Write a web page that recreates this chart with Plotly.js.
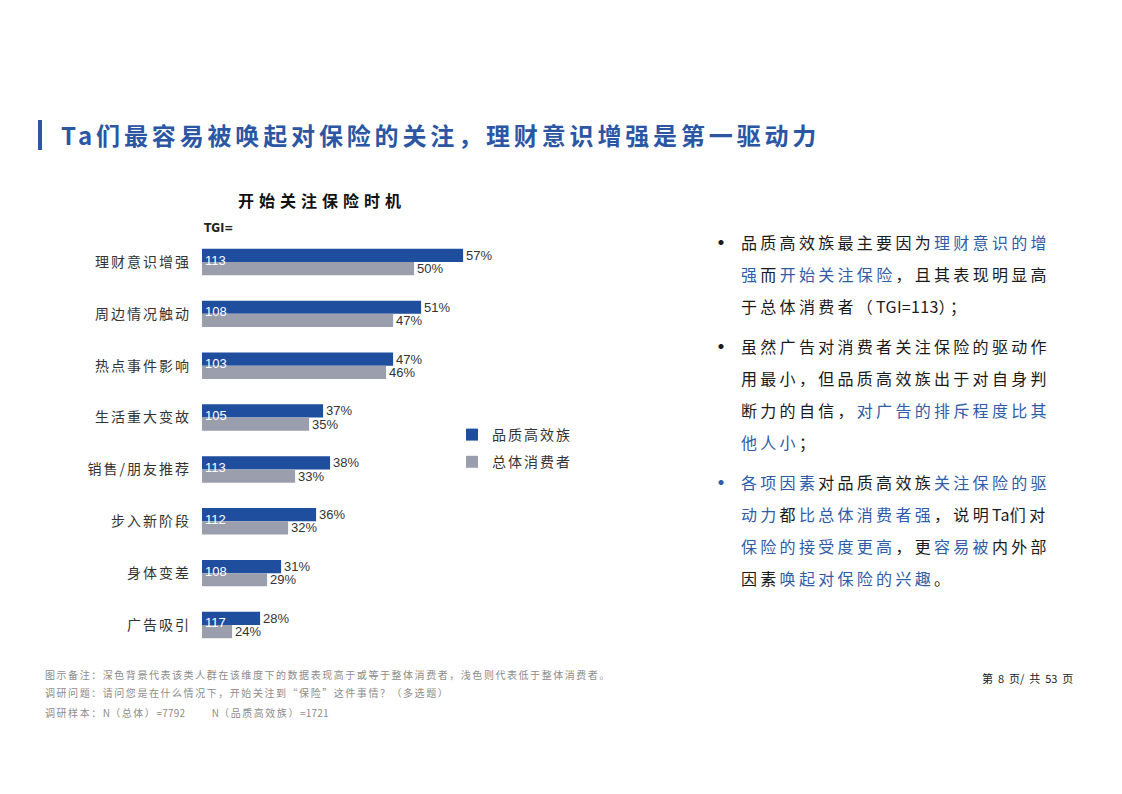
<!DOCTYPE html>
<html>
<head>
<meta charset="utf-8">
<script src="https://cdn.plot.ly/plotly-3.0.1.min.js"></script>
<style>
  html, body { margin: 0; padding: 0; background: #ffffff; }
  #wrap { position: relative; width: 1122px; height: 794px; overflow: hidden; font-family: "Noto Sans CJK SC", sans-serif; }
  #chart { position: absolute; left: 0; top: 0; width: 1122px; height: 794px; }
  .ytick text { letter-spacing: 2px; }
  .legendtext { letter-spacing: 2px; }
  .gtitle { letter-spacing: 5px; }
  #hbar { position: absolute; left: 38px; top: 120px; width: 4px; height: 30px; background: #2B56A4; }
  #htitle { position: absolute; left: 61px; top: 117px; font-size: 24px; line-height: 36px; font-weight: bold; color: #2B56A4; letter-spacing: 3.85px; white-space: nowrap; }
  #bullets { position: absolute; left: 708px; top: 226px; font-size: 16px; color: #1a1a1a; letter-spacing: 3.3px; white-space: nowrap; }
  .item { position: relative; padding-left: 33px; line-height: 32px; margin-bottom: 8px; }
  .item .dot { position: absolute; left: 3px; top: 0; letter-spacing: 0; font-size: 20px; font-weight: bold; }
  .lat { letter-spacing: 0.3px; }
  .hl { color: #2F5CA8; }
  #notes { position: absolute; left: 45px; top: 666px; font-size: 10px; color: #8c8c8c; letter-spacing: 1.55px; white-space: nowrap; }
  #notes div { height: 18px; line-height: 18px; }
  #notes .lat { letter-spacing: 0.2px; }
  #page { position: absolute; left: 982px; top: 670px; font-size: 11px; color: #222; white-space: pre; letter-spacing: 0px; }
</style>
</head>
<body>
<div id="wrap">
  <div id="chart"></div>
  <div id="hbar"></div>
  <div id="htitle">Ta们最容易被唤起对保险的关注，理财意识增强是第一驱动力</div>
  <div id="bullets">
    <div class="item"><span class="dot">•</span>品质高效族最主要因为<span class="hl">理财意识的增</span><br><span class="hl">强</span>而<span class="hl">开始关注保险</span>，且其表现明显高<br>于总体消费者（<span class="lat">TGI=113</span>）；</div>
    <div class="item"><span class="dot">•</span>虽然广告对消费者关注保险的驱动作<br>用最小，但品质高效族出于对自身判<br>断力的自信，<span class="hl">对广告的排斥程度比其</span><br><span class="hl">他人小</span>；</div>
    <div class="item"><span class="dot hl">•</span><span class="hl">各项因素</span>对品质高效族<span class="hl">关注保险的驱</span><br><span class="hl">动力</span>都<span class="hl">比总体消费者强</span>，说明<span class="lat">Ta</span>们对<br><span class="hl">保险的接受度更高</span>，更<span class="hl">容易被</span>内外部<br>因素<span class="hl">唤起对保险的兴趣</span>。</div>
  </div>
  <div id="notes">
    <div>图示备注：深色背景代表该类人群在该维度下的数据表现高于或等于整体消费者，浅色则代表低于整体消费者。</div>
    <div>调研问题：请问您是在什么情况下，开始关注到“保险”这件事情？（多选题）</div>
    <div style="margin-top:2px">调研样本：<span class="lat">N</span>（总体）<span class="lat">=7792</span>&nbsp;&nbsp;&nbsp;&nbsp;&nbsp;&nbsp;&nbsp;<span class="lat">N</span>（品质高效族）<span class="lat">=1721</span></div>
  </div>
  <div id="page">第  8  页/  共  53  页</div>
</div>
<script>
// ---- data ----
var categories = ["理财意识增强", "周边情况触动", "热点事件影响", "生活重大变故", "销售/朋友推荐", "步入新阶段", "身体变差", "广告吸引"];
var qualityValues = [57, 51, 47, 37, 38, 36, 31, 28];   // 品质高效族 (%)
var totalValues = [50, 47, 46, 35, 33, 32, 29, 24];     // 总体消费者 (%)
var tgiValues = [113, 108, 103, 105, 113, 112, 108, 117];
var seriesNames = ["品质高效族", "总体消费者"];
var chartTitle = "开始关注保险时机";
var tgiLabel = "TGI=";

// ---- layout constants ----
var W = 1122, H = 794;
var xMin = 19.7, xMax = 70;
var cjk = '"Noto Sans CJK SC", sans-serif';
var latin = '"Liberation Sans", Arial, sans-serif';

var pct = function (arr) { return arr.map(function (v) { return v + "%"; }); };

var traces = [
  {
    type: "bar", orientation: "h", name: seriesNames[0],
    y: categories, x: qualityValues,
    marker: { color: "#1F4E9F", line: { width: 0 } },
    text: pct(qualityValues), textposition: "outside", cliponaxis: false,
    constraintext: "none",
    textfont: { family: latin, size: 13, color: "#333333" },
    legendgroup: "a", hoverinfo: "skip"
  },
  {
    type: "bar", orientation: "h", name: seriesNames[1],
    y: categories, x: totalValues,
    marker: { color: "#9B9EAC", line: { width: 0 } },
    text: pct(totalValues), textposition: "outside", cliponaxis: false,
    constraintext: "none",
    textfont: { family: latin, size: 13, color: "#333333" },
    legendgroup: "b", hoverinfo: "skip"
  }
];

var annotations = categories.map(function (c, i) {
  return {
    xref: "x", yref: "y", x: xMin, y: c, text: String(tgiValues[i]),
    xanchor: "left", yanchor: "middle", xshift: 1, yshift: 2, showarrow: false,
    font: { family: latin, size: 13, color: "#ffffff" }
  };
});
annotations.push({
  xref: "paper", yref: "paper", x: 202 / W, y: 1 - 228 / H, text: tgiLabel,
  xanchor: "left", yanchor: "middle", showarrow: false,
  font: { family: '"DejaVu Sans Condensed", "Liberation Sans", sans-serif', size: 12, color: "#222222", weight: "bold" }
});

var layout = {
  width: W, height: H,
  margin: { l: 0, r: 0, t: 0, b: 0 },
  paper_bgcolor: "rgba(0,0,0,0)", plot_bgcolor: "rgba(0,0,0,0)",
  showlegend: true,
  barmode: "group", bargap: 0.49, bargroupgap: 0,
  title: {
    text: chartTitle, x: 322 / W, xref: "paper", xanchor: "center",
    y: 1 - 201 / H, yref: "paper", yanchor: "middle",
    font: { family: cjk, size: 16, color: "#111111", weight: "bold" }
  },
  xaxis: {
    domain: [202 / W, (202 + 7 * (xMax - xMin)) / W],
    range: [xMin, xMax], showgrid: false, zeroline: false,
    showticklabels: false, showline: false, ticks: "", fixedrange: true
  },
  yaxis: {
    domain: [1 - 650.9 / H, 1 - 236.1 / H],
    type: "category", autorange: "reversed",
    showgrid: false, zeroline: false, showline: false, ticks: "",
    ticklabelstandoff: 10,
    tickfont: { family: cjk, size: 14, color: "#333333" }, fixedrange: true
  },
  legend: {
    x: 452 / W, xanchor: "left", y: 1 - 419 / H, yanchor: "top",
    traceorder: "grouped", tracegroupgap: 6,
    bgcolor: "rgba(0,0,0,0)", borderwidth: 0,
    font: { family: cjk, size: 14, color: "#333333" }
  },
  annotations: annotations
};

Plotly.newPlot("chart", traces, layout, { staticPlot: true, displayModeBar: false });
</script>
</body>
</html>
